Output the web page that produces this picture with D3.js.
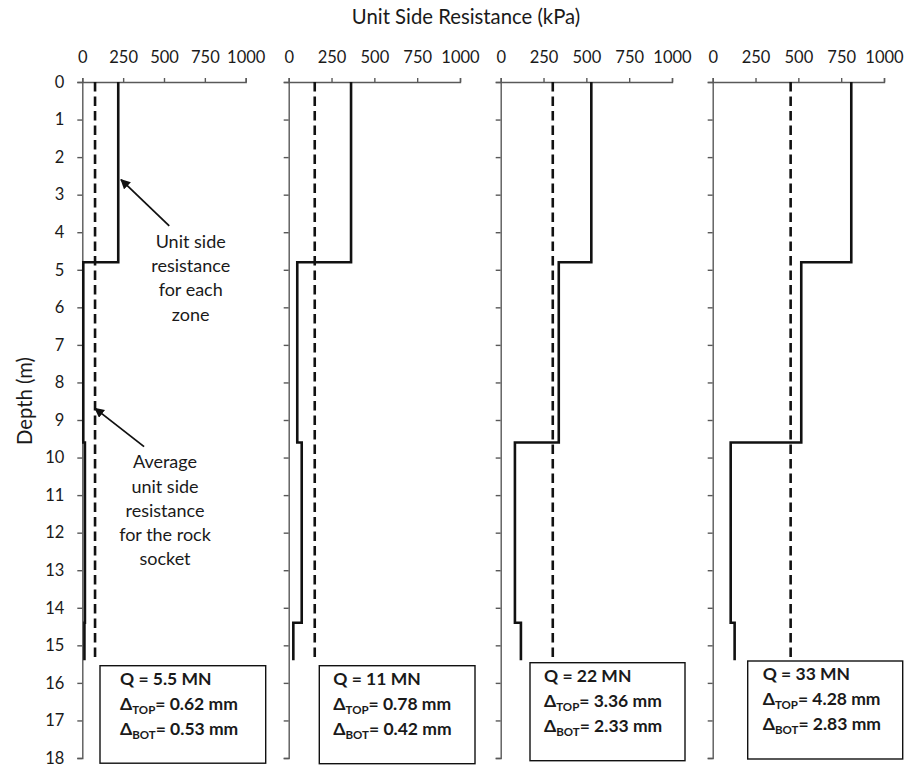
<!DOCTYPE html>
<html>
<head>
<meta charset="utf-8">
<script src="https://cdn.jsdelivr.net/npm/d3@7"></script>
<style>
  html, body { margin: 0; padding: 0; background: #fff; }
  svg { display: block; }
  text { font-family: Lato, "Open Sans", "Liberation Sans", sans-serif; fill: #1a1a1a; }
</style>
</head>
<body>
<svg id="chart" width="916" height="765"></svg>
<script>
// Zone boundaries along the shaft (m) and the unit side resistance per zone (kPa)
const zoneDepths = [0, 4.8, 9.6, 14.4, 15.4];
const loadLabels = ["5.5", "11", "22", "33"];
const sideRes_5_5 = [220, 6, 16, 13];
const sideRes_11  = [364, 50, 76, 27];
const sideRes_22  = [529, 339, 83, 118];
const sideRes_33  = [809, 517, 105, 128];
const avgSocket   = [78, 152, 304, 455];
const deltaTop    = ["0.62", "0.78", "3.36", "4.28"];
const deltaBot    = ["0.53", "0.42", "2.33", "2.83"];
const xTickValues = [0, 250, 500, 750, 1000];
const yTickValues = [0, 1, 2, 3, 4, 5, 6, 7, 8, 9, 10, 11, 12, 13, 14, 15, 16, 17, 18];

const series = [sideRes_5_5, sideRes_11, sideRes_22, sideRes_33];

const svg = d3.select("#chart");
const axisColor = "#595959";

// Horizontal extent of each panel (pixel range for 0..1000 kPa)
const panelRanges = [[82.3, 245.7], [288.7, 460], [500.7, 672], [712.7, 884]];
// Summary box per panel: left, top, width, height, text inset
const boxes = [
  { x: 100,   y: 665.7, w: 165.7, h: 97.5, tx: 20 },
  { x: 319.3, y: 665.7, w: 155.7, h: 98,   tx: 14 },
  { x: 530,   y: 662.7, w: 155,   h: 98,   tx: 14 },
  { x: 747.7, y: 661,   w: 155,   h: 98,   tx: 15 }
];

const y = d3.scaleLinear().domain([0, 18]).range([82, 758]);

const line = d3.line().x(d => d[0]).y(d => d[1]);

const scales = [];

series.forEach((vals, i) => {
  const x = d3.scaleLinear().domain([0, 1000]).range(panelRanges[i]);
  scales.push(x);
  const g = svg.append("g");

  // top axis
  const xAxis = d3.axisTop(x).tickValues(xTickValues).tickFormat(d3.format("d"))
    .tickSize(4).tickSizeOuter(4).tickPadding(15);
  const gx = g.append("g").attr("transform", `translate(0,${y(0)})`).call(xAxis);
  // left axis
  const yAxis = d3.axisLeft(y).tickValues(yTickValues).tickFormat(d3.format("d"))
    .tickSize(5).tickSizeOuter(5).tickPadding(13);
  if (i > 0) yAxis.tickFormat("");
  const gy = g.append("g").attr("transform", `translate(${x(0)},0)`).call(yAxis);

  [gx, gy].forEach(a => {
    a.select(".domain").attr("stroke", axisColor).attr("stroke-width", 1.4);
    a.selectAll(".tick line").attr("stroke", axisColor).attr("stroke-width", 1.4);
    a.selectAll(".tick text").style("font-size", "16.5px").attr("fill", "#1a1a1a");
  });

  // average unit side resistance for the socket (dashed)
  g.append("path")
    .attr("d", line([[x(avgSocket[i]), y(zoneDepths[0])], [x(avgSocket[i]), y(zoneDepths[zoneDepths.length - 1])]]))
    .attr("fill", "none")
    .attr("stroke", "#111")
    .attr("stroke-width", 2.6)
    .attr("stroke-dasharray", "9.5,5");

  // stepped profile of unit side resistance per zone
  const pts = [];
  vals.forEach((v, k) => {
    pts.push([x(v), y(zoneDepths[k])]);
    pts.push([x(v), y(zoneDepths[k + 1])]);
  });
  g.append("path")
    .attr("d", line(pts))
    .attr("fill", "none")
    .attr("stroke", "#111")
    .attr("stroke-width", 2.6)
    .attr("stroke-linejoin", "miter");

  // summary box
  const b = boxes[i];
  g.append("rect")
    .attr("x", b.x).attr("y", b.y).attr("width", b.w).attr("height", b.h)
    .attr("fill", "#fff").attr("stroke", "#111").attr("stroke-width", 1.4);
  const tx = b.x + b.tx;
  const lineGap = 25;
  const base = b.y + 19;
  const t = g.append("g").style("font-weight", "700").style("font-size", "17.5px");
  t.append("text").attr("x", tx).attr("y", base).text(`Q = ${loadLabels[i]} MN`);
  [["TOP", deltaTop[i]], ["BOT", deltaBot[i]]].forEach(([sub, val], k) => {
    const txt = t.append("text").attr("x", tx).attr("y", base + lineGap * (k + 1));
    txt.append("tspan").text("\u0394");
    txt.append("tspan").attr("dy", 4).style("font-size", "11.5px").text(sub);
    txt.append("tspan").attr("dy", -4).text(`= ${val} mm`);
  });
});

// axis titles
svg.append("text")
  .attr("x", 466).attr("y", 24)
  .attr("text-anchor", "middle")
  .style("font-size", "20.3px")
  .text("Unit Side Resistance (kPa)");

svg.append("text")
  .attr("transform", "translate(32,401) rotate(-90)")
  .attr("text-anchor", "middle")
  .style("font-size", "20.3px")
  .text("Depth (m)");

// annotations in the first panel
const x0 = scales[0];
const defs = svg.append("defs");
defs.append("marker")
  .attr("id", "arrowhead")
  .attr("viewBox", "0 0 10 10")
  .attr("refX", 9).attr("refY", 5)
  .attr("markerWidth", 5.5).attr("markerHeight", 5.5)
  .attr("markerUnits", "strokeWidth")
  .attr("orient", "auto")
  .append("path").attr("d", "M0,0 L10,5 L0,10 Z").attr("fill", "#111");

const arrows = [
  { from: [532, 3.83], to: [237, 2.6] },
  { from: [378, 9.71], to: [78, 8.69] }
];
arrows.forEach(a => {
  svg.append("line")
    .attr("x1", x0(a.from[0])).attr("y1", y(a.from[1]))
    .attr("x2", x0(a.to[0])).attr("y2", y(a.to[1]))
    .attr("stroke", "#111").attr("stroke-width", 1.8)
    .attr("marker-end", "url(#arrowhead)");
});

const notes = [
  { cx: 190.7, y0: 248, gap: 24.2, lines: ["Unit side", "resistance", "for each", "zone"] },
  { cx: 165, y0: 468.3, gap: 24.2, lines: ["Average", "unit side", "resistance", "for the rock", "socket"] }
];
notes.forEach(n => {
  const t = svg.append("text").attr("text-anchor", "middle").style("font-size", "18px");
  n.lines.forEach((s, k) => {
    t.append("tspan").attr("x", n.cx).attr("y", n.y0 + k * n.gap).text(s);
  });
});
</script>
</body>
</html>
